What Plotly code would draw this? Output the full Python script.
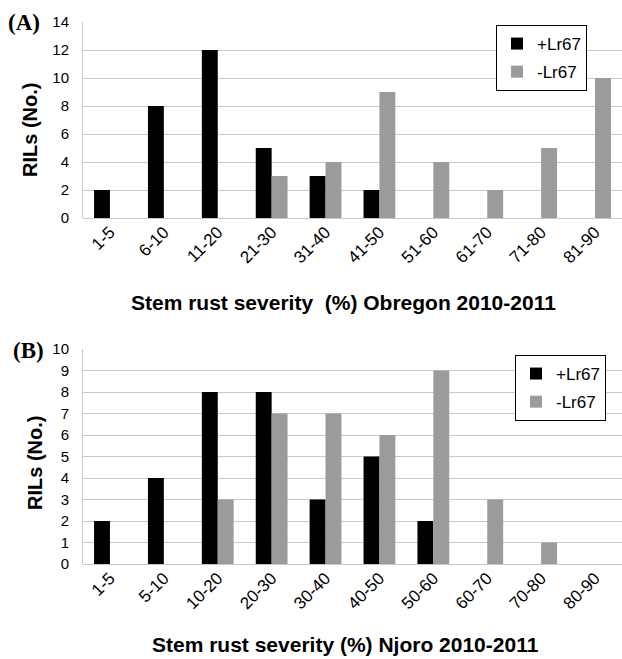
import plotly.graph_objects as go

W, H = 622, 659

cats_a = ["1-5", "6-10", "11-20", "21-30", "31-40", "41-50", "51-60", "61-70", "71-80", "81-90"]
plus_a = [2, 8, 12, 5, 3, 2, 0, 0, 0, 0]
minus_a = [0, 0, 0, 3, 4, 9, 4, 2, 5, 10]

cats_b = ["1-5", "5-10", "10-20", "20-30", "30-40", "40-50", "50-60", "60-70", "70-80", "80-90"]
plus_b = [2, 4, 8, 8, 3, 5, 2, 0, 0, 0]
minus_b = [0, 0, 3, 7, 7, 6, 9, 3, 1, 0]

BLACK = "#000000"
GRAY = "#9b9b9b"
GRID = "#c8c8c8"

def px(x):
    return x / W

def py(y):
    return 1 - y / H

fig = go.Figure()
fig.add_trace(go.Bar(x=cats_a, y=plus_a, name="+Lr67", marker=dict(color=BLACK, line_width=0),
                     xaxis="x", yaxis="y", legend="legend", legendgroup="a1"))
fig.add_trace(go.Bar(x=cats_a, y=minus_a, name="-Lr67", marker=dict(color=GRAY, line_width=0),
                     xaxis="x", yaxis="y", legend="legend", legendgroup="a2"))
fig.add_trace(go.Bar(x=cats_b, y=plus_b, name="+Lr67", marker=dict(color=BLACK, line_width=0),
                     xaxis="x2", yaxis="y2", legend="legend2", legendgroup="b1"))
fig.add_trace(go.Bar(x=cats_b, y=minus_b, name="-Lr67", marker=dict(color=GRAY, line_width=0),
                     xaxis="x2", yaxis="y2", legend="legend2", legendgroup="b2"))

xtickfont = dict(family="Liberation Sans, Arial", size=17, color="#000")
ytickfont = dict(family="Liberation Sans, Arial", size=15, color="#000")
xcommon = dict(tickangle=-45, tickfont=xtickfont, showgrid=False, showline=False,
               ticks="", zeroline=False, fixedrange=True, automargin=False)
ycommon = dict(tickfont=ytickfont, showgrid=True, gridcolor=GRID, gridwidth=1,
               showline=True, linecolor=GRID, linewidth=1, zeroline=True,
               zerolinecolor=GRID, zerolinewidth=1, ticks="", ticklabelstandoff=10,
               automargin=False, fixedrange=True)

legend_common = dict(bgcolor="white", bordercolor="#000", borderwidth=1,
                     font=dict(family="Liberation Sans, Arial", size=17, color="#000"),
                     xanchor="left", yanchor="top", itemwidth=30,
                     traceorder="grouped", tracegroupgap=3)

fig.update_layout(
    width=W, height=H,
    margin=dict(l=0, r=0, t=0, b=0, autoexpand=False),
    plot_bgcolor="white", paper_bgcolor="white",
    barmode="group", bargap=0.41, bargroupgap=0,
    xaxis=dict(domain=[px(83), 1], anchor="y", **xcommon),
    yaxis=dict(domain=[py(218), py(22)], anchor="x", range=[0, 14], dtick=2, **ycommon),
    xaxis2=dict(domain=[px(83), 1], anchor="y2", **xcommon),
    yaxis2=dict(domain=[py(564), py(349)], anchor="x2", range=[0, 10], dtick=1, **ycommon),
    legend=dict(x=px(496), y=py(25), **legend_common),
    legend2=dict(x=px(515), y=py(355), **legend_common),
    showlegend=True,
)

titlefont = dict(family="Liberation Sans, Arial", size=21, color="#000")
ytitlefont = dict(family="Liberation Sans, Arial", size=20, color="#000")
panelfont = dict(family="Liberation Serif, Times New Roman", size=23, color="#000")
fig.add_annotation(text="<b>Stem rust severity  (%) Obregon 2010-2011</b>", x=px(343), y=py(303),
                   xref="paper", yref="paper", showarrow=False, font=titlefont,
                   xanchor="center", yanchor="middle")
fig.add_annotation(text="<b>Stem rust severity (%) Njoro 2010-2011</b>", x=px(345), y=py(644),
                   xref="paper", yref="paper", showarrow=False, font=titlefont,
                   xanchor="center", yanchor="middle")
fig.add_annotation(text="<b>RILs (No.)</b>", x=px(30), y=py(130), textangle=-90,
                   xref="paper", yref="paper", showarrow=False, font=ytitlefont,
                   xanchor="center", yanchor="middle")
fig.add_annotation(text="<b>RILs (No.)</b>", x=px(35), y=py(463), textangle=-90,
                   xref="paper", yref="paper", showarrow=False, font=ytitlefont,
                   xanchor="center", yanchor="middle")
fig.add_annotation(text="<b>(A)</b>", x=px(6), y=py(23),
                   xref="paper", yref="paper", showarrow=False, font=panelfont,
                   xanchor="left", yanchor="middle")
fig.add_annotation(text="<b>(B)</b>", x=px(11), y=py(350),
                   xref="paper", yref="paper", showarrow=False, font=panelfont,
                   xanchor="left", yanchor="middle")

fig.write_html("out.html", config={"displayModeBar": False},
               post_script="document.body.style.margin='0';")
